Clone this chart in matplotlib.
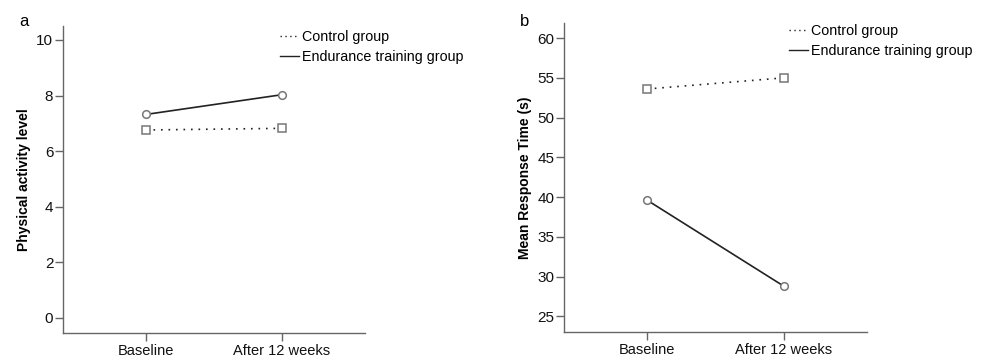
import matplotlib
matplotlib.use("Agg")
import matplotlib.pyplot as plt
from matplotlib.lines import Line2D

plt.rcParams['font.family'] = ['Liberation Sans', 'DejaVu Sans']

timepoints = ["Baseline", "After 12 weeks"]
groups = ["Control group", "Endurance training group"]

pa_control = [6.76, 6.82]
pa_endurance = [7.32, 8.03]
rt_control = [53.6, 55.0]
rt_endurance = [39.6, 28.8]

pa_ticks = [0, 2, 4, 6, 8, 10]
rt_ticks = [25, 30, 35, 40, 45, 50, 55, 60]

W, H = 983, 360
fig = plt.figure(figsize=(W / 100, H / 100), dpi=100)

spine_c = "#666666"
line_c = "#222222"
mark_c = "#777777"

def panel(rect, ctrl, endu, ticks, ylim, ylabel, letter, letter_xy, leg_x, leg_y):
    ax = fig.add_axes(rect)
    x = list(range(len(timepoints)))
    ax.plot(x, ctrl, linestyle=(0, (1, 3.5)), color=line_c, lw=1.2,
            marker='s', markersize=5.5, markerfacecolor='white',
            markeredgecolor=mark_c, markeredgewidth=1.1)
    ax.plot(x, endu, linestyle='-', color=line_c, lw=1.2,
            marker='o', markersize=5.5, markerfacecolor='white',
            markeredgecolor=mark_c, markeredgewidth=1.1)
    ax.set_xlim(-0.61, 1.61)
    ax.set_ylim(*ylim)
    ax.set_xticks(x)
    ax.set_xticklabels(timepoints)
    ax.set_yticks(ticks)
    for s in ["top", "right"]:
        ax.spines[s].set_visible(False)
    for s in ["left", "bottom"]:
        ax.spines[s].set_color(spine_c)
        ax.spines[s].set_linewidth(1.0)
    ax.tick_params(axis='y', direction='out', length=6, width=1.0,
                   color=spine_c, labelsize=11, labelcolor="#111111", pad=1)
    ax.tick_params(axis='x', direction='out', length=6, width=1.0,
                   color=spine_c, labelsize=10.5, labelcolor="#111111", pad=2)
    ax.set_ylabel(ylabel, fontsize=10, fontweight='bold', labelpad=4)
    fig.text(letter_xy[0] / W, 1 - letter_xy[1] / H, letter, fontsize=12,
             ha='center', va='center')
    handles = [Line2D([0], [0], color=line_c, lw=1.0, linestyle=(0, (1, 2.5))),
               Line2D([0], [0], color=line_c, lw=1.0, linestyle='-')]
    ax.legend(handles, groups, loc='upper left',
              bbox_to_anchor=(leg_x / W, 1 - leg_y / H),
              bbox_transform=fig.transFigure, frameon=False, fontsize=10.3,
              handlelength=1.3, handletextpad=0.25, labelspacing=0.4,
              borderpad=0, borderaxespad=0)
    return ax

# panel a: axes from x=63..365, y=26..333
panel([63 / W, 1 - 333 / H, (365 - 63) / W, (333 - 26) / H],
      pa_control, pa_endurance, pa_ticks, (-0.54, 10.5),
      "Physical activity level", "a", (24, 21), 280, 30)

# panel b: axes from x=564..867, y=23..332
panel([564 / W, 1 - 332 / H, (867 - 564) / W, (332 - 23) / H],
      rt_control, rt_endurance, rt_ticks, (23.03, 61.9),
      "Mean Response Time (s)", "b", (525, 21), 789, 24)

fig.savefig("out.png", dpi=100)
